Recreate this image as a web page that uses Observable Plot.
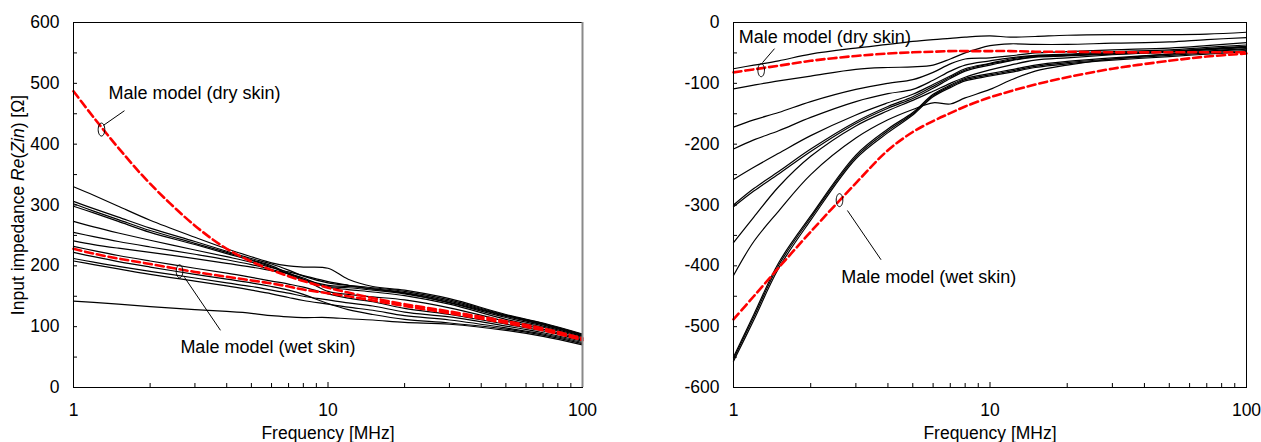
<!DOCTYPE html>
<html><head><meta charset="utf-8">
<script src="https://cdn.jsdelivr.net/npm/d3@7"></script>
<script src="https://cdn.jsdelivr.net/npm/@observablehq/plot@0.6"></script>
<style>body{margin:0;background:#fff}#wrap{display:flex;width:1261px;height:442px}</style>
</head><body><div id="wrap"><div id="left"></div><div id="right"></div></div>
<script>
// ---------- data ----------
const freq = [1, 1.2, 1.5, 2, 3, 4, 5, 6, 7, 8, 10, 12, 15, 20, 30, 50, 70, 100];

// Left panel: Re(Zin) [Ω]
const leftDry = [487, 444, 394, 335, 266, 228, 207, 193, 183, 175, 164, 156, 147, 137, 125, 109, 97, 81];
const leftWet = [228, 220, 212, 203, 190, 182, 176, 171, 166, 161, 155, 150, 143, 134, 122, 106, 94, 78];
const leftA1 = [330, 316, 298, 275, 247, 228, 215, 205, 200, 198, 196, 178, 166, 160, 146, 120, 106, 88];
const leftA2 = [306, 294, 280, 262, 240, 224, 212, 203, 193, 183, 172, 168, 164, 158, 144, 119, 105, 87];
const leftA3 = [302, 290, 276, 258, 237, 222, 210, 200, 188, 178, 168, 166, 162, 156, 142, 118, 104, 86];
const leftA4 = [298, 287, 273, 255, 235, 220, 209, 198, 186, 176, 166, 164, 160, 154, 140, 117, 103, 85];
const leftB  = [273, 264, 254, 242, 226, 215, 206, 197, 190, 184, 174, 168, 162, 155, 139, 115, 101, 84];
const leftC  = [255, 248, 240, 231, 219, 210, 202, 194, 187, 180, 165, 161, 157, 151, 137, 112, 99, 82];
const leftD  = [241, 235, 229, 222, 212, 204, 198, 192, 187, 178, 158, 153, 149, 144, 131, 109, 96, 80];
const leftE  = [232, 225, 217, 208, 196, 188, 181, 175, 170, 165, 154, 147, 141, 130, 120, 104, 93, 78];
const leftI  = [222, 215, 207, 198, 186, 178, 172, 166, 160, 153, 138, 128, 120, 112, 106, 96, 86, 72];
const leftF  = [212, 206, 199, 191, 180, 172, 166, 160, 155, 150, 144, 139, 134, 124, 116, 101, 90, 76];
const leftG  = [208, 202, 195, 186, 175, 167, 160, 154, 148, 143, 137, 132, 127, 118, 111, 98, 88, 74];
const leftJ  = [142, 140, 137, 133, 128, 125, 122, 118, 116, 115, 115, 113, 111, 107, 104, 94, 84, 70];

// Right panel: Im(Zin) [Ω]
const rightDry = [-82, -77, -71, -63, -55, -51, -49, -48, -47, -47, -47, -47, -48, -48, -49, -49, -49, -49];
const rightWet = [-488, -450, -403, -344, -264, -210, -180, -162, -149, -138, -123, -113, -102, -90, -76, -63, -56, -51];
const rightR1  = [-76, -70, -63, -52, -42, -36, -31, -28, -26, -24, -22, -24, -23, -21, -20, -20, -19, -16];
const rightR2  = [-109, -103, -96, -88, -77, -74, -73, -70, -60, -50, -38, -35, -36, -36, -34, -32, -28, -25];
const rightR3  = [-172, -160, -148, -130, -110, -100, -94, -82, -68, -60, -58, -55, -50, -48, -45, -42, -38, -33];
const rightR4  = [-208, -193, -178, -156, -130, -117, -110, -95, -80, -70, -63, -58, -54, -52, -48, -45, -41, -37];
const rightR5  = [-258, -238, -215, -186, -152, -132, -118, -102, -88, -76, -67, -60, -55, -53, -50, -47, -43, -39];
const rightR6  = [-300, -273, -245, -208, -163, -138, -122, -105, -90, -78, -68, -62, -56, -54, -51, -48, -44, -40];
const rightR7  = [-303, -277, -249, -212, -166, -141, -125, -108, -92, -80, -70, -63, -57, -55, -52, -49, -45, -41];
const rightR8  = [-362, -320, -270, -220, -170, -145, -128, -113, -100, -90, -78, -70, -62, -58, -53, -48, -44, -40];
const rightR9  = [-416, -360, -310, -250, -190, -160, -143, -132, -134, -124, -110, -95, -80, -70, -60, -52, -47, -43];
const rightR10 = [-550, -480, -395, -318, -218, -175, -148, -118, -103, -92, -84, -78, -70, -64, -58, -52, -48, -44];
const rightR11 = [-553, -484, -399, -321, -221, -178, -150, -120, -105, -94, -86, -80, -72, -66, -60, -54, -50, -46];
const rightR12 = [-557, -489, -404, -325, -224, -181, -152, -122, -107, -96, -88, -82, -74, -68, -62, -56, -52, -48];

// ticks
const xTicks = [1, 10, 100];
const xMinor = [2, 3, 4, 5, 6, 7, 8, 9, 20, 30, 40, 50, 60, 70, 80, 90];
const yTicksLeft = [0, 100, 200, 300, 400, 500, 600];
const yMinorLeft = [50, 100, 150, 200, 250, 300, 350, 400, 450, 500, 550];
const yTicksRight = [0, -100, -200, -300, -400, -500, -600];
const yMinorRight = [-50, -100, -150, -200, -250, -300, -350, -400, -450, -500, -550];

// annotations (frequency, value)
const annLabels = ["Male model (dry skin)", "Male model (wet skin)"];
const leftTextF = [1.372, 2.63], leftTextV = [483, 66];
const leftEllF = [1.288, 2.61], leftEllV = [424, 191];
const leftLinkF1 = [1.586, 2.73], leftLinkV1 = [455, 181];
const leftLinkF2 = [1.312, 3.78], leftLinkV2 = [431, 94];
const rightTextF = [1.049, 2.63], rightTextV = [-24, -419];
const rightEllF = [1.282, 2.59], rightEllV = [-78.4, -292];
const rightLinkF1 = [1.445, 2.78], rightLinkV1 = [-43, -309];
const rightLinkF2 = [1.297, 3.76], rightLinkV2 = [-66, -390];

const xLabel = "Frequency [MHz]";
const yLabelLeft = "Input impedance Re(Zin) [Ω]";

// ---------- helpers ----------
function rows(seriesList) {
  const out = [];
  seriesList.forEach((s, k) => freq.forEach((f, i) => out.push({f, v: s[i], s: k})));
  return out;
}
const ellipse = {
  draw(ctx) {
    const rx = 3.3, ry = 6.5, k = 0.5523;
    ctx.moveTo(rx, 0);
    ctx.bezierCurveTo(rx, ry * k, rx * k, ry, 0, ry);
    ctx.bezierCurveTo(-rx * k, ry, -rx, ry * k, -rx, 0);
    ctx.bezierCurveTo(-rx, -ry * k, -rx * k, -ry, 0, -ry);
    ctx.bezierCurveTo(rx * k, -ry, rx, -ry * k, rx, 0);
    ctx.closePath();
  }
};
const font = "'Liberation Sans', Arial, Helvetica, sans-serif";
const idx = [0, 1];

function panel({width, marginLeft, marginRight, yDomain, yTicks, yMinor, black, dry, wet,
                tF, tV, eF, eV, l1F, l1V, l2F, l2V, yLabel, grayRight}) {
  const marks = [
    Plot.text(idx, {x: i => tF[i], y: i => tV[i], text: i => annLabels[i], textAnchor: "start", lineAnchor: "middle", fontSize: 18, fill: "black"}),
    Plot.line(rows(black), {x: "f", y: "v", z: "s", stroke: "black", strokeWidth: 1.2, curve: "catmull-rom"}),
    Plot.line(rows([dry, wet]), {x: "f", y: "v", z: "s", stroke: "#ff0000", strokeWidth: 2.6, strokeDasharray: "8,4", curve: "catmull-rom"}),
    Plot.link(idx, {x1: i => l1F[i], y1: i => l1V[i], x2: i => l2F[i], y2: i => l2V[i], stroke: "black", strokeWidth: 1}),
    Plot.dot(idx, {x: i => eF[i], y: i => eV[i], symbol: ellipse, stroke: "black", fill: "none", strokeWidth: 1}),
    Plot.frame({stroke: "black", strokeWidth: 1}),
    Plot.axisY(yTicks, {tickSize: 0, tickPadding: 14, tickFormat: d => String(d)}),
    Plot.axisY(yMinor, {tickSize: -4, text: null}),
    Plot.axisX(xTicks, {tickSize: 0, tickPadding: 16, tickFormat: d => String(d)}),
    Plot.axisX(xMinor, {tickSize: -4, text: null}),
    Plot.axisX([10], {tickSize: -5, text: null}),
    Plot.text([xLabel], {frameAnchor: "bottom", dy: 39, lineAnchor: "top", fill: "black"})
  ];
  if (grayRight) marks.push(Plot.ruleX([100], {stroke: "#8a8a8a", strokeWidth: 2}));
  if (yLabel) marks.push(Plot.text([yLabel], {frameAnchor: "left", rotate: -90, dx: -55, textAnchor: "middle", lineAnchor: "middle", fill: "black"}));
  return Plot.plot({
    width, height: 442, marginLeft, marginRight, marginTop: 22, marginBottom: 55,
    style: {fontFamily: font, fontSize: "17.5px", color: "black", background: "white", overflow: "visible"},
    x: {type: "log", domain: [1, 100], label: null},
    y: {domain: yDomain, label: null},
    marks
  });
}

const leftSvg = panel({
  width: 631, marginLeft: 73, marginRight: 49, yDomain: [0, 600],
  yTicks: yTicksLeft, yMinor: yMinorLeft,
  black: [leftA1, leftA2, leftA3, leftA4, leftB, leftC, leftD, leftE, leftI, leftF, leftG, leftJ],
  dry: leftDry, wet: leftWet,
  tF: leftTextF, tV: leftTextV, eF: leftEllF, eV: leftEllV,
  l1F: leftLinkF1, l1V: leftLinkV1, l2F: leftLinkF2, l2V: leftLinkV2,
  yLabel: yLabelLeft, grayRight: true
});
const rightSvg = panel({
  width: 630, marginLeft: 102, marginRight: 15, yDomain: [-600, 0],
  yTicks: yTicksRight, yMinor: yMinorRight,
  black: [rightR1, rightR2, rightR3, rightR4, rightR5, rightR6, rightR7, rightR8, rightR9, rightR10, rightR11, rightR12],
  dry: rightDry, wet: rightWet,
  tF: rightTextF, tV: rightTextV, eF: rightEllF, eV: rightEllV,
  l1F: rightLinkF1, l1V: rightLinkV1, l2F: rightLinkF2, l2V: rightLinkV2,
  yLabel: null, grayRight: false
});
document.getElementById("left").appendChild(leftSvg);
document.getElementById("right").appendChild(rightSvg);

// mixed italic in the y label
leftSvg.querySelectorAll("text").forEach(t => {
  if (t.textContent === yLabelLeft) {
    t.innerHTML = 'Input impedance <tspan font-style="italic">Re</tspan>(<tspan font-style="italic">Zin</tspan>) [Ω]';
  }
});
</script></body></html>
